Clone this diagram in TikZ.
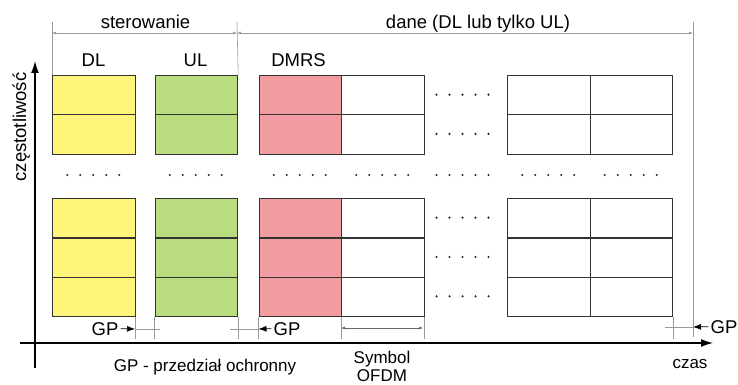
\documentclass[tikz,border=0pt]{standalone}
\usepackage{fontspec}
\setmainfont{Liberation Sans}
\usetikzlibrary{arrows.meta}

\definecolor{dlcol}{RGB}{255,245,122}
\definecolor{ulcol}{RGB}{184,220,126}
\definecolor{dmrscol}{RGB}{240,156,160}

\tikzset{
  cell/.style={draw=black!80, line width=1.2pt, minimum width=82.5pt,
    minimum height=39.3pt, inner sep=0pt, anchor=north west},
  dimline/.style={draw=black!40, line width=0.6pt},
  gparrow/.style={draw=black, line width=0.7pt, -{Latex[length=8pt,width=6pt]}},
  lbl/.style={font=\fontsize{18.5}{21}\selectfont, inner sep=0pt, anchor=base},
  sublbl/.style={font=\fontsize{17}{18}\selectfont, inner sep=0pt, anchor=base, align=center},
  dotfill/.style={fill=black!85}
}

\begin{document}
\begin{tikzpicture}[x=1pt, y=-1pt, >={Latex[length=4pt,width=3pt]}]
\useasboundingbox (0,0) rectangle (738,385);

% axes
\coordinate (f0) at (35,368);
\coordinate (f1) at (35,61);
\coordinate (t0) at (20,343);
\coordinate (t1) at (713,343);
\draw[line width=1.3pt, -{Latex[length=12pt,width=8pt]}] (f0) -- (f1);
\draw[line width=1.3pt, -{Latex[length=12pt,width=8pt]}] (t0) -- (t1);
\node[lbl, rotate=90, anchor=base] (freq) at (26,127) {częstotliwość};
\node[sublbl] (czas) at (690,368) {czas};

% resource elements
\foreach \cx/\col [count=\i] in {52/dlcol, 154.5/ulcol, 258.5/dmrscol, 341/white, 507/white, 589.5/white} {
  \foreach \r in {0,1}
    \node[cell, fill=\col] (top\i-\r) at (\cx,75+39.3*\r) {};
  \foreach \r in {0,1,2}
    \node[cell, fill=\col] (bot\i-\r) at (\cx,198+39.3*\r) {};
}

% dots
\foreach \dx in {93.25,195.75,299.75,382.25,462.5,548.25,630.75}
  \foreach \k in {-2,...,2}
    \fill[dotfill] (\dx+13*\k,175) circle (1.2pt);
\foreach \dy in {94.6,133.9,217.6,257,296.3}
  \foreach \k in {-2,...,2}
    \fill[dotfill] (462.5+13*\k,\dy) circle (1.2pt);

% column labels
\node[lbl] (dl) at (93.5,67) {DL};
\node[lbl] (ul) at (195.5,67) {UL};
\node[lbl] (dmrs) at (298.5,67) {DMRS};

% top dimensions
\coordinate (s0) at (52,22);
\coordinate (s1) at (237,22);
\coordinate (s2) at (693,22);
\coordinate (s3) at (693,337);
\draw[dimline] (s0) -- (top1-0.north west);
\draw[dimline] (s1) -- (top2-0.north east);
\draw[dimline] (s2) -- (s3);
\coordinate (a0) at (52,33);
\coordinate (a1) at (237,33);
\coordinate (a2) at (693,33);
\draw[dimline, <->] (a0) -- (a1);
\draw[dimline, <->] (a1) -- (a2);
\node[lbl] (ster) at (145.5,29) {sterowanie};
\node[lbl] (dane) at (478,29) {dane (DL lub tylko UL)};

% bottom ticks
\foreach \n/\a in {bot1-2/south east, bot2-2/south west, bot2-2/south east, bot3-2/south west,
                   bot4-2/south west, bot4-2/south east, bot6-2/south east}
  \draw[dimline] (\n.\a) -- ++(0,22);

% guard periods
\coordinate (gl) at (135,329);
\coordinate (gl1) at (160,329);
\coordinate (gm) at (258.5,329);
\coordinate (gm1) at (230,329);
\coordinate (gr) at (693,327);
\coordinate (gr1) at (665,327);
\node[lbl, inner xsep=2pt] (gpl) at (105,335) {GP};
\node[lbl, inner xsep=2pt] (gpm) at (287,335) {GP};
\node[lbl, inner xsep=2pt] (gpr) at (724,333) {GP};
\draw[gparrow] (gpl.east) -- (gl);
\draw[dimline] (gl) -- (gl1);
\draw[gparrow] (gpm.west) -- (gm);
\draw[dimline] (gm) -- (gm1);
\draw[gparrow] (gpr.west) -- (gr);
\draw[dimline] (gr) -- (gr1);

% OFDM symbol
\coordinate (o0) at (341,328);
\coordinate (o1) at (423,328);
\draw[dimline, draw=black!60, <->] (o0) -- (o1);
\node[sublbl] (ofdm) at (382,381) {Symbol\\OFDM};
\node[sublbl] (gpdef) at (205,371) {GP - przedział ochronny};
\end{tikzpicture}
\end{document}
